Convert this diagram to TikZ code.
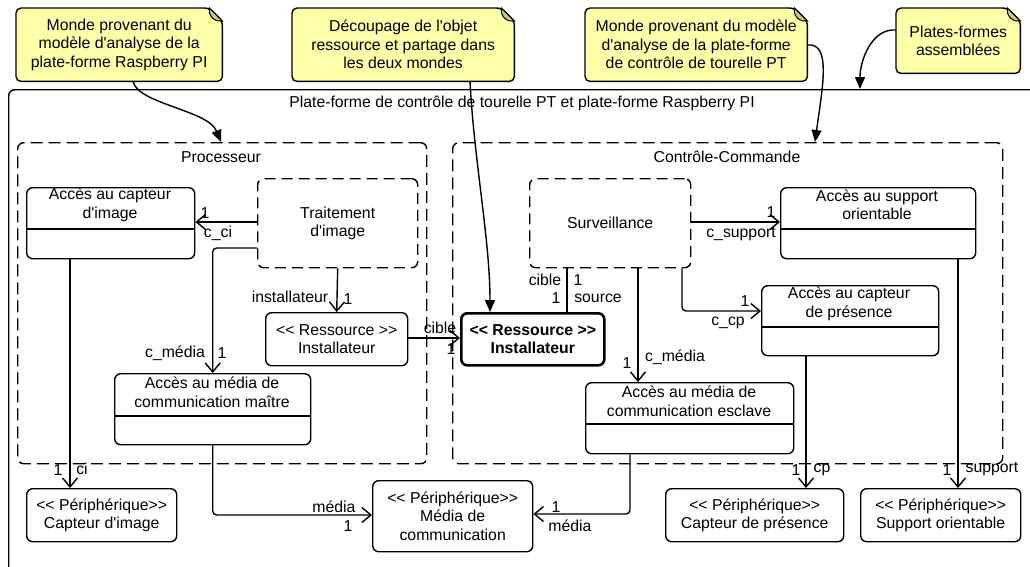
\documentclass[tikz,border=0pt]{standalone}
\usepackage{fontspec}
\setmainfont{Liberation Sans}
\usetikzlibrary{arrows.meta,backgrounds}
\definecolor{noteyellow}{RGB}{255,255,170}
\definecolor{foldgray}{RGB}{196,196,140}
\newcommand\q{\textquotesingle}
\begin{document}
\begin{tikzpicture}[x=1pt,y=-1pt, line width=1.4pt,
  every node/.style={font=\fontsize{15.8}{18.5}\selectfont, inner sep=0pt},
  cls/.style={draw, fill=white, rounded corners=6pt, anchor=north west, align=center},
  dcls/.style={cls, dash pattern=on 11pt off 6pt},
  pkg/.style={draw, rounded corners=6pt, dash pattern=on 12pt off 6pt, anchor=north west},
  notebox/.style={anchor=north west, align=center},
  txt/.style={align=center},
  assoc/.style={-{Straight Barb[length=9pt,width=15pt]}},
  notearrow/.style={-{Triangle[length=12pt,width=10pt]}},
  notebg/.style={draw, fill=noteyellow, rounded corners=5pt, line width=1.4pt},
  fold/.style={draw, fill=foldgray, line width=1pt},
]
\useasboundingbox (0,0) rectangle (1030,566);

% outer frame
\node[draw, rounded corners=6pt, anchor=north west, minimum width=1060pt, minimum height=520pt] (outer) at (8,89) {};
\node (outer-t) at (522,103) {Plate-forme de contrôle de tourelle PT et plate-forme Raspberry PI};

% packages
\node[pkg, minimum width=409pt, minimum height=321pt] (proc) at (17,142) {};
\node (proc-t) at (221,157) {Processeur};
\node[pkg, minimum width=550pt, minimum height=321pt] (cc) at (452,142) {};
\node (cc-t) at (727,157) {Contrôle-Commande};

% notes
\node[notebox, minimum width=205pt, minimum height=72pt] (n1) at (16,8) {Monde provenant du\\modèle d\q analyse de la\\plate-forme Raspberry PI};
\node[notebox, minimum width=221pt, minimum height=72pt] (n2) at (292,8) {Découpage de l\q objet\\ressource et partage dans\\les deux mondes};
\node[notebox, minimum width=221pt, minimum height=72pt] (n3) at (585,8) {Monde provenant du modèle\\d\q analyse de la plate-forme\\de contrôle de tourelle PT};
\node[notebox, minimum width=123pt, minimum height=64pt] (n4) at (896,8) {Plates-formes\\assemblées};
\begin{scope}[on background layer]
  \fill[white] (0,0) rectangle (1030,566);
  \foreach \n in {n1,n2,n3,n4}{
    \path[notebg] (\n.south west) -- (\n.north west) -- ([xshift=-13pt]\n.north east) -- ([yshift=-13pt]\n.north east) -- (\n.south east) -- cycle;
    \path[fold] ([xshift=-13pt]\n.north east) .. controls ([xshift=-13pt,yshift=-6pt]\n.north east) .. ([xshift=-10pt,yshift=-10pt]\n.north east) .. controls ([xshift=-6pt,yshift=-13pt]\n.north east) .. ([yshift=-13pt]\n.north east) -- cycle;
  }
\end{scope}

% Processeur side
\node[cls, minimum width=168pt, minimum height=71pt] (aci) at (26,187) {};
\node[txt] (aci-t) at (110,205) {Accès au capteur\\d\q image};
\draw (aci.west |- 0,229) -- (aci.east |- 0,229);

\node[dcls, minimum width=160pt, minimum height=89pt] (trait) at (257,178) {Traitement\\d\q image};
\node[cls, minimum width=142pt, minimum height=53pt] (resL) at (265,312) {<{}< Ressource >{}>\\Installateur};

\node[cls, minimum width=196pt, minimum height=71pt] (amm) at (114,373) {};
\node[txt] (amm-t) at (212,392) {Accès au média de\\communication maître};
\draw (amm.west |- 0,416) -- (amm.east |- 0,416);

\node[cls, minimum width=150pt, minimum height=53pt] (pci) at (26,488) {<{}< Périphérique>{}>\\Capteur d\q image};
\node[cls, minimum width=160pt, minimum height=71pt] (pmc) at (372,480) {<{}< Périphérique>{}>\\Média de\\communication};

% Controle-Commande side
\node[cls, minimum width=143pt, minimum height=52pt, line width=2.6pt, font=\fontsize{15.8}{18.5}\selectfont\bfseries] (resR) at (460,312) {<{}< Ressource >{}>\\Installateur};
\node[dcls, minimum width=161pt, minimum height=89pt] (surv) at (529,178) {Surveillance};

\node[cls, minimum width=195pt, minimum height=71pt] (asu) at (780,187) {};
\node[txt] (asu-t) at (877,205) {Accès au support\\orientable};
\draw (asu.west |- 0,229) -- (asu.east |- 0,229);

\node[cls, minimum width=177pt, minimum height=70pt] (acp) at (761,285) {};
\node[txt] (acp-t) at (849,304) {Accès au capteur\\de présence};
\draw (acp.west |- 0,327) -- (acp.east |- 0,327);

\node[cls, minimum width=208pt, minimum height=71pt] (ame) at (585,382) {};
\node[txt] (ame-t) at (689,401) {Accès au média de\\communication esclave};
\draw (ame.west |- 0,424) -- (ame.east |- 0,424);

\node[cls, minimum width=178pt, minimum height=53pt] (pcp) at (665,488) {<{}< Périphérique>{}>\\Capteur de présence};
\node[cls, minimum width=160pt, minimum height=53pt] (pso) at (860,488) {<{}< Périphérique>{}>\\Support orientable};

% associations
\draw[assoc] (trait.west |- 0,222) -- (aci.east |- 0,222);
\node (l1a) at (205,213) {1};
\node (l1b) at (218,233) {c\_ci};

\draw[assoc, rounded corners=4pt] (trait.west |- 0,248) -| (amm.north);
\node (l2a) at (175,353) {c\_média};
\node (l2b) at (222,353) {1};

\draw[assoc] (trait.south) -- (resL.north);
\node (l3a) at (290,297) {installateur};
\node (l3b) at (348,299) {1};

\draw[assoc] (resL.east |- 0,338) -- (resR.west |- 0,338);
\node (l4a) at (440,328) {cible};
\node (l4b) at (451,349) {1};

\draw[assoc] (aci.south -| 70,0) -- (pci.north -| 70,0);
\node (l5a) at (58,470) {1};
\node (l5b) at (82,469) {ci};

\draw[assoc, rounded corners=4pt] (amm.south) |- (pmc.west |- 0,515);
\node (l6a) at (334,507) {média};
\node (l6b) at (348,526) {1};

\draw[assoc, rounded corners=4pt] (ame.south -| 630,0) |- (pmc.east |- 0,514);
\node (l7a) at (556,507) {1};
\node (l7b) at (570,526) {média};

\draw (surv.south -| 567,0) -- (resR.north -| 567,0);
\node (l8a) at (545,280) {cible};
\node (l8b) at (578,280) {1};
\node (l8c) at (556,298) {1};
\node (l8d) at (598,298) {source};

\draw[assoc] (surv.south -| 638,0) -- (ame.north -| 638,0);
\node (l9a) at (627,363) {1};
\node (l9b) at (675,357) {c\_média};

\draw[assoc] (surv.east |- 0,222) -- (asu.west |- 0,222);
\node (l10a) at (771,212) {1};
\node (l10b) at (741,234) {c\_support};

\draw[assoc, rounded corners=4pt] (surv.south -| 682,0) |- (acp.west |- 0,311);
\node (l11a) at (745,301) {1};
\node (l11b) at (728,323) {c\_cp};

\draw[assoc] (acp.south -| 806,0) -- (pcp.north -| 806,0);
\node (l12a) at (796,470) {1};
\node (l12b) at (822,470) {cp};

\draw[assoc] (asu.south -| 958,0) -- (pso.north -| 958,0);
\node (l13a) at (947,470) {1};
\node (l13b) at (992,469) {support};

% note arrows
\draw[notearrow] (n1.south -| 133,0) .. controls (138,104) and (208,110) .. (proc.north -| 221,0);
\draw[notearrow] (n2.south -| 470,0) .. controls (474,160) and (490,240) .. (resR.north -| 490,0);
\draw[notearrow] (n3.east |- 0,45) .. controls (832,42) and (822,90) .. (cc.north -| 815,0);
\draw[notearrow] (n4.west |- 0,30) .. controls (872,28) and (860,60) .. (outer.north -| 860,0);
\end{tikzpicture}
\end{document}
